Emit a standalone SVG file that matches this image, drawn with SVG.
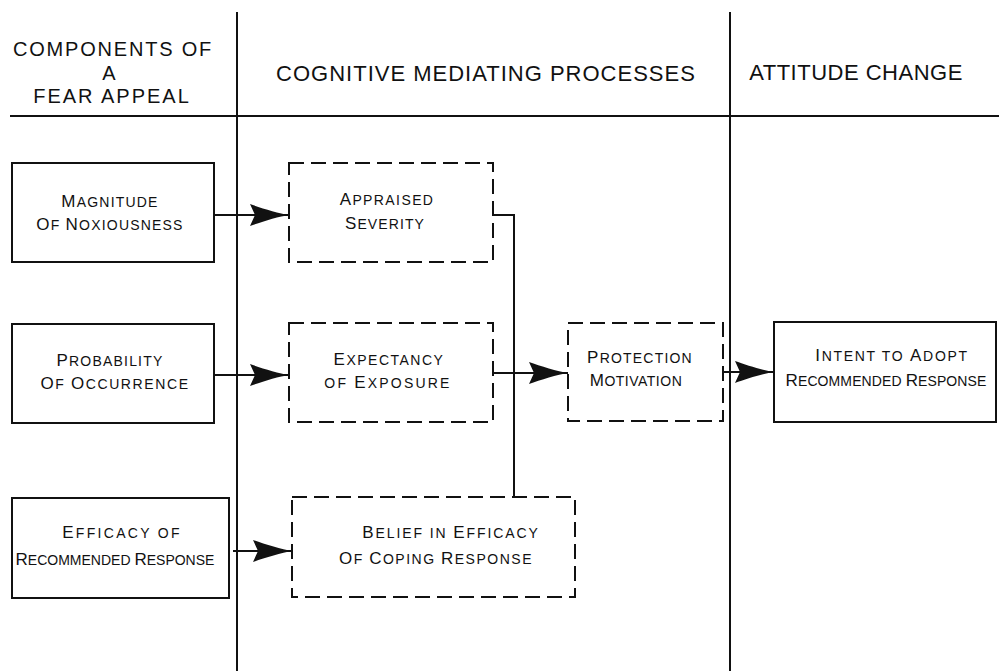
<svg xmlns="http://www.w3.org/2000/svg" width="999" height="671" viewBox="0 0 999 671">
<style>
text{font-family:"Liberation Sans",Arial,sans-serif;fill:#111;text-anchor:middle}
.h{font-size:22px}
.h2{font-size:20px}
.t{font-size:14px}
.b{font-size:17px}
.frame{stroke:#111;stroke-width:2;fill:none}
.box{fill:#fff;stroke:#111;stroke-width:2}
.dash{fill:#fff;stroke:#111;stroke-width:2;stroke-dasharray:15 7}
.con{fill:none;stroke:#111;stroke-width:2}
.arr{marker-end:url(#ah)}
</style>
<defs>
<marker id="ah" markerUnits="userSpaceOnUse" markerWidth="42" markerHeight="24" refX="40" refY="12" orient="auto">
<path d="M40,12 C30,10.5 12,5 1,1 L6,12 L1,23 C12,19 30,13.5 40,12 Z" fill="#111"/>
</marker>
</defs>
<rect width="999" height="671" fill="#fff"/>
<g id="frame">
<line class="frame" x1="10" y1="116" x2="999" y2="116"/>
<line class="frame" x1="237" y1="12" x2="237" y2="671"/>
<line class="frame" x1="730" y1="12" x2="730" y2="671"/>
</g>
<g id="headers">
<text class="h2" x="113" y="56" letter-spacing="1.8">COMPONENTS OF</text>
<text class="h2" x="109" y="80">A</text>
<text class="h2" x="112" y="103" letter-spacing="2">FEAR  APPEAL</text>
<text class="h" x="486" y="81" letter-spacing="1">COGNITIVE MEDIATING PROCESSES</text>
<text class="h" x="856" y="80" letter-spacing="0.5">ATTITUDE  CHANGE</text>
</g>
<g id="connectors">
<path class="con arr" d="M214,215 H289"/>
<path class="con arr" d="M214,375 H289"/>
<path class="con arr" d="M233,551 H292"/>
<path class="con" d="M493,215 H514 V497"/>
<path class="con arr" d="M493,373 H568"/>
<path class="con arr" d="M723,372 H774"/>
</g>
<g id="magnitude">
<rect class="box" x="12" y="163" width="202" height="99"/>
<text class="t" x="110" y="207" letter-spacing="1.2"><tspan class="b">M</tspan>AGNITUDE</text>
<text class="t" x="110" y="230" letter-spacing="1.2"><tspan class="b">O</tspan>F  <tspan class="b">N</tspan>OXIOUSNESS</text>
</g>
<g id="probability">
<rect class="box" x="12" y="324" width="202" height="99"/>
<text class="t" x="110" y="366" letter-spacing="1.2"><tspan class="b">P</tspan>ROBABILITY</text>
<text class="t" x="115" y="389" letter-spacing="1.6"><tspan class="b">O</tspan>F  <tspan class="b">O</tspan>CCURRENCE</text>
</g>
<g id="efficacy">
<rect class="box" x="12" y="498" width="217" height="100"/>
<text class="t" x="122" y="538" letter-spacing="2.3"><tspan class="b">E</tspan>FFICACY OF</text>
<text class="t" x="115" y="565" letter-spacing="0"><tspan class="b">R</tspan>ECOMMENDED <tspan class="b">R</tspan>ESPONSE</text>
</g>
<g id="appraised">
<rect class="dash" x="289" y="163" width="204" height="99"/>
<text class="t" x="387" y="205" letter-spacing="1.4"><tspan class="b">A</tspan>PPRAISED</text>
<text class="t" x="385" y="229" letter-spacing="1.1"><tspan class="b">S</tspan>EVERITY</text>
</g>
<g id="expectancy">
<rect class="dash" x="289" y="323" width="204" height="99"/>
<text class="t" x="389" y="365" letter-spacing="1.5"><tspan class="b">E</tspan>XPECTANCY</text>
<text class="t" x="388" y="388" letter-spacing="2.2">OF <tspan class="b">E</tspan>XPOSURE</text>
</g>
<g id="belief">
<rect class="dash" x="292" y="497" width="283" height="100"/>
<text class="t" x="451" y="538" letter-spacing="1.9"><tspan class="b">B</tspan>ELIEF IN <tspan class="b">E</tspan>FFICACY</text>
<text class="t" x="436" y="564" letter-spacing="1.5"><tspan class="b">O</tspan>F  <tspan class="b">C</tspan>OPING <tspan class="b">R</tspan>ESPONSE</text>
</g>
<g id="protection">
<rect class="dash" x="568" y="323" width="155" height="98"/>
<text class="t" x="640" y="363" letter-spacing="1.2"><tspan class="b">P</tspan>ROTECTION</text>
<text class="t" x="636" y="386" letter-spacing="0.5"><tspan class="b">M</tspan>OTIVATION</text>
</g>
<g id="intent">
<rect class="box" x="774" y="322" width="222" height="100"/>
<text class="t" x="892" y="361" letter-spacing="1.7"><tspan class="b">I</tspan>NTENT TO <tspan class="b">A</tspan>DOPT</text>
<text class="t" x="886" y="386" letter-spacing="0.1"><tspan class="b">R</tspan>ECOMMENDED <tspan class="b">R</tspan>ESPONSE</text>
</g>
</svg>
